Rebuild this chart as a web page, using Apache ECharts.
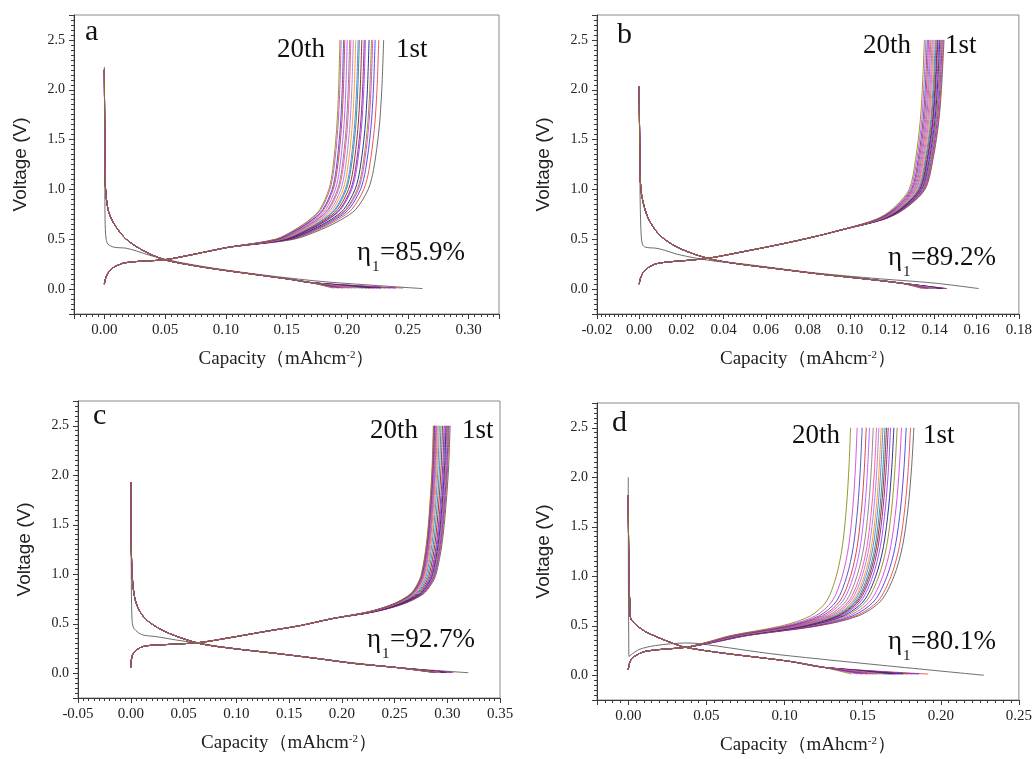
<!DOCTYPE html>
<html>
<head>
<meta charset="utf-8">
<script src="https://cdn.jsdelivr.net/npm/echarts@6.0.0/dist/echarts.min.js"></script>
<style>
html,body{margin:0;padding:0;background:#fff;}
#chart{width:1035px;height:759px;}
</style>
</head>
<body>
<div id="chart"></div>
<script>
// cycle colours, 1st .. 20th
const cycleColors = ['#4a4a4a','#e8322d','#2828d8','#e020e0','#808000','#000080','#8a2be2','#800080','#8b0000','#008080',
  '#4169e1','#ff8c00','#9370db','#ff3399','#707070','#b040ff','#d02020','#3030c0','#cc33cc','#808000'];

// panel a : voltage (V) / capacity (mAh cm-2)
// charge: shared low-voltage branch, then each cycle fans out to its own end capacity
const aChgLowV = [0.05,0.1,0.15,0.21,0.265,0.295,0.34,0.38,0.42];
const aChgLowC = [0,0.0008,0.0025,0.0066,0.0175,0.05,0.07,0.086,0.1025];
const aChgUpV = [0.5,0.6,0.7,0.8,1.0,1.2,1.6,2.0,2.5];
const aChgUpFrac = [0.42,0.6,0.73,0.82,0.9,0.935,0.97,0.988,1];
const aChgEnd = [0.230,0.226,0.223,0.221,0.220,0.218,0.215,0.214,0.212,0.210,0.209,0.207,0.205,0.203,0.202,0.200,0.198,0.197,0.195,0.194];
const aDisV = [2.2,1.6,1.2,1.0,0.8,0.7,0.6,0.5,0.4,0.3,0.25,0.2,0.15,0.1,0.065];
const aDisC = [0,0.0003,0.0007,0.001,0.003,0.006,0.011,0.018,0.030,0.048,0.067,0.092,0.122,0.152,0.17];
const aDisEnd = [0.262,0.246,0.240,0.236,0.232,0.228,0.225,0.222,0.219,0.216,0.213,0.210,0.207,0.204,0.201,0.198,0.196,0.193,0.190,0.188];
const aFirstDisV = [2.23,1.5,0.8,0.6,0.5,0.45,0.42,0.41,0.38,0.34,0.3,0.25,0.2,0.15,0.1,0.07,0.035,0.005];
const aFirstDisC = [0,0.0002,0.0005,0.0008,0.0015,0.003,0.008,0.018,0.027,0.037,0.05,0.07,0.095,0.125,0.16,0.185,0.225,0.262];

// panel b
const bChgLowV = [0.05,0.12,0.19,0.255,0.29,0.31,0.37,0.45,0.53,0.6];
const bChgLowC = [0,0.0008,0.0027,0.0082,0.024,0.033,0.048,0.067,0.084,0.097];
const bChgUpV = [0.7,0.8,1.0,1.3,1.7,2.1,2.5];
const bChgUpFrac = [0.4,0.6,0.81,0.89,0.95,0.98,1];
const bChgEnd = [0.1445,0.1442,0.1437,0.1433,0.143,0.1425,0.1421,0.1416,0.1413,0.1408,0.1404,0.1399,0.1394,0.1389,0.1383,0.1378,0.1372,0.1366,0.1359,0.1352];
const bDisV = [2.03,1.4,1.0,0.75,0.6,0.5,0.4,0.3,0.25,0.2,0.15,0.1,0.06];
const bDisC = [0,0.0003,0.0008,0.0035,0.0074,0.012,0.02,0.034,0.048,0.067,0.086,0.108,0.124];
const bDisEnd = [0.161,0.146,0.1455,0.145,0.1445,0.144,0.1435,0.143,0.1425,0.142,0.1412,0.1405,0.14,0.1392,0.1385,0.1378,0.137,0.1362,0.1352,0.1342];
const bFirstDisV = [2.03,1.0,0.6,0.45,0.42,0.41,0.39,0.35,0.31,0.28,0.25,0.17,0.11,0.06,0.005];
const bFirstDisC = [0,0.0004,0.0008,0.0015,0.003,0.008,0.012,0.018,0.027,0.036,0.05,0.08,0.11,0.14,0.161];

// panel c
const cChgLowV = [0.06,0.2,0.27,0.29,0.31,0.365,0.425,0.48,0.554];
const cChgLowC = [0,0.0022,0.0117,0.034,0.065,0.097,0.129,0.16,0.192];
const cChgUpV = [0.62,0.7,0.8,0.9,1.0,1.3,1.7,2.1,2.5];
const cChgUpFrac = [0.35,0.6,0.77,0.84,0.88,0.93,0.965,0.988,1];
const cChgEnd = [0.3027,0.3018,0.301,0.3003,0.2996,0.2988,0.298,0.297,0.2955,0.294,0.2925,0.2915,0.2905,0.2898,0.2892,0.2886,0.288,0.2876,0.2872,0.2868];
const cDisV = [1.93,1.4,1.0,0.75,0.6,0.5,0.4,0.3,0.25,0.2,0.15,0.1,0.06];
const cDisC = [0,0.0004,0.0013,0.004,0.01,0.0196,0.037,0.0655,0.097,0.138,0.176,0.211,0.25];
const cDisEnd = [0.32,0.306,0.304,0.302,0.3,0.299,0.298,0.297,0.296,0.295,0.294,0.293,0.292,0.291,0.29,0.289,0.2885,0.288,0.2875,0.287];
const cFirstDisV = [1.93,1.0,0.6,0.47,0.42,0.386,0.37,0.336,0.3,0.25,0.2,0.15,0.1,0.05,0.02,0.005];
const cFirstDisC = [0,0.0005,0.001,0.0022,0.006,0.0117,0.024,0.043,0.066,0.097,0.138,0.176,0.215,0.26,0.3,0.32];

// panel d
const dChgLowV = [0.057,0.12,0.175,0.242,0.282];
const dChgLowC = [0,0.0008,0.0026,0.011,0.0367];
const dChgUpV = [0.33,0.4,0.5,0.6,0.75,1.0,1.3,1.7,2.1,2.5];
const dChgUpFrac = [0.12,0.27,0.585,0.757,0.855,0.913,0.95,0.975,0.99,1];
const dChgEnd = [0.1828,0.1807,0.1779,0.1749,0.1721,0.17,0.1679,0.1664,0.1653,0.1643,0.163,0.1619,0.1604,0.1589,0.1568,0.1544,0.1523,0.1497,0.1465,0.1423];
const dDisV = [1.82,1.2,0.8,0.65,0.578,0.46,0.393,0.326,0.282,0.225,0.141,0.08];
const dDisC = [0,0.0003,0.0008,0.0012,0.0015,0.009,0.0175,0.028,0.0367,0.06,0.103,0.125];
const dDisEnd = [0.2276,0.192,0.186,0.182,0.179,0.176,0.173,0.171,0.169,0.167,0.165,0.163,0.161,0.159,0.157,0.155,0.153,0.15,0.147,0.143];
const dFirstDisV = [2.0,1.0,0.4,0.19,0.259,0.3,0.326,0.32,0.208,0.0];
const dFirstDisC = [0,0.0001,0.0003,0.0005,0.0068,0.0175,0.0367,0.045,0.0964,0.2276];

const efficiency = ['85.9%','89.2%','92.7%','80.1%'];
const letters = ['a','b','c','d'];

const panels = [
  {chgLowV:aChgLowV,chgLowC:aChgLowC,chgUpV:aChgUpV,chgUpFrac:aChgUpFrac,chgEnd:aChgEnd,disV:aDisV,disC:aDisC,disEnd:aDisEnd,disTail:0.01,firstV:aFirstDisV,firstC:aFirstDisC,
   grid:{left:74,top:15,width:425,height:299},x:{min:-0.025,max:0.325,split:7,showMin:false,showMax:false},
   txt:{letter:[85,47],th:[277,63],st:[396,63],eta:[357,266]}},
  {chgLowV:bChgLowV,chgLowC:bChgLowC,chgUpV:bChgUpV,chgUpFrac:bChgUpFrac,chgEnd:bChgEnd,disV:bDisV,disC:bDisC,disEnd:bDisEnd,disTail:0.005,firstV:bFirstDisV,firstC:bFirstDisC,
   grid:{left:597,top:15,width:423,height:299},x:{min:-0.02,max:0.18,split:10,showMin:true,showMax:true},
   txt:{letter:[617,50],th:[863,59],st:[945,59],eta:[888,271]}},
  {chgLowV:cChgLowV,chgLowC:cChgLowC,chgUpV:cChgUpV,chgUpFrac:cChgUpFrac,chgEnd:cChgEnd,disV:cDisV,disC:cDisC,disEnd:cDisEnd,disTail:0.008,firstV:cFirstDisV,firstC:cFirstDisC,
   grid:{left:78,top:401,width:422,height:297},x:{min:-0.05,max:0.35,split:8,showMin:true,showMax:true},
   txt:{letter:[93,431],th:[370,444],st:[462,444],eta:[367,653]}},
  {chgLowV:dChgLowV,chgLowC:dChgLowC,chgUpV:dChgUpV,chgUpFrac:dChgUpFrac,chgEnd:dChgEnd,disV:dDisV,disC:dDisC,disEnd:dDisEnd,disTail:0.012,firstV:dFirstDisV,firstC:dFirstDisC,
   grid:{left:597,top:403,width:423,height:297},x:{min:-0.02,max:0.25,split:5,showMin:false,showMax:true},
   txt:{letter:[612,438],th:[792,449],st:[923,449],eta:[888,655]}}
];

// charge branch: shared part, then fan from the last shared point to this cycle's end capacity
function chargeCurve(p, k) {
  const pts = p.chgLowV.map((v, i) => [p.chgLowC[i], v]);
  const c0 = p.chgLowC[p.chgLowC.length - 1];
  p.chgUpV.forEach((v, i) => pts.push([c0 + (p.chgEnd[k] - c0) * p.chgUpFrac[i], v]));
  return pts;
}
function dischargeCurve(p, k) {
  if (k === 0) return p.firstV.map((v, i) => [p.firstC[i], v]);
  const pts = p.disV.map((v, i) => [p.disC[i], v]);
  pts.push([p.disEnd[k], p.disTail]);
  return pts;
}

const serif = '"Liberation Serif", "Times New Roman", serif';
const axisColor = '#3a3a3a';
const grids = [], xAxes = [], yAxes = [], series = [], graphics = [];

panels.forEach((p, gi) => {
  grids.push(Object.assign({show:true, borderColor:'#8a8a8a', borderWidth:1, containLabel:false}, p.grid));
  xAxes.push({
    type:'value', gridIndex:gi, min:p.x.min, max:p.x.max, splitNumber:p.x.split,
    name:'Capacity（mAhcm{sup|-2}）', nameLocation:'middle', nameGap:36,
    nameTextStyle:{fontFamily:serif, fontSize:19, color:'#222',
      rich:{sup:{fontFamily:serif, fontSize:11, color:'#222', verticalAlign:'top'}}},
    axisLine:{onZero:false, lineStyle:{color:axisColor, width:1}},
    axisTick:{length:5, lineStyle:{color:axisColor}},
    minorTick:{show:true, splitNumber:10, length:3, lineStyle:{color:axisColor}},
    splitLine:{show:false},
    axisLabel:{fontFamily:serif, fontSize:15, color:'#222', margin:9,
      showMinLabel:p.x.showMin, showMaxLabel:p.x.showMax,
      formatter:v => v.toFixed(2)}
  });
  yAxes.push({
    type:'value', gridIndex:gi, min:-0.25, max:2.75, splitNumber:6,
    name:'Voltage (V)', nameLocation:'middle', nameGap:44, nameRotate:90,
    nameTextStyle:{fontFamily:'"Liberation Sans", Arial, sans-serif', fontSize:19, color:'#222'},
    axisLine:{onZero:false, lineStyle:{color:axisColor, width:1}},
    axisTick:{length:5, lineStyle:{color:axisColor}},
    minorTick:{show:true, splitNumber:10, length:3, lineStyle:{color:axisColor}},
    splitLine:{show:false},
    axisLabel:{fontFamily:serif, fontSize:14, color:'#222', margin:9,
      showMinLabel:false, showMaxLabel:false,
      formatter:v => v.toFixed(1)}
  });
  for (let k = 0; k < 20; k++) {
    const base = {type:'line', xAxisIndex:gi, yAxisIndex:gi, showSymbol:false, symbol:'none',
      smooth:0.3, silent:true, animation:false,
      lineStyle:{color:cycleColors[k], width:0.9, opacity:0.9}};
    series.push(Object.assign({data:dischargeCurve(p, k)}, base));
    series.push(Object.assign({data:chargeCurve(p, k)}, base));
  }
  const t = p.txt;
  const txtStyle = (s, size) => ({text:s, fontFamily:serif, fontSize:size, fill:'#111', align:'left', verticalAlign:'bottom'});
  graphics.push({type:'text', x:t.letter[0], y:t.letter[1], style:txtStyle(letters[gi], 30)});
  graphics.push({type:'text', x:t.th[0], y:t.th[1], style:txtStyle('20th', 27)});
  graphics.push({type:'text', x:t.st[0], y:t.st[1], style:txtStyle('1st', 27)});
  graphics.push({type:'text', x:t.eta[0], y:t.eta[1], style:txtStyle('η', 27)});
  graphics.push({type:'text', x:t.eta[0] + 15, y:t.eta[1] + 9, style:txtStyle('1', 15)});
  graphics.push({type:'text', x:t.eta[0] + 23, y:t.eta[1], style:txtStyle('=' + efficiency[gi], 27)});
});

const chart = echarts.init(document.getElementById('chart'), null, {renderer:'canvas'});
chart.setOption({
  backgroundColor:'#ffffff',
  animation:false,
  grid:grids, xAxis:xAxes, yAxis:yAxes, series:series, graphic:graphics
});
</script>
</body>
</html>
